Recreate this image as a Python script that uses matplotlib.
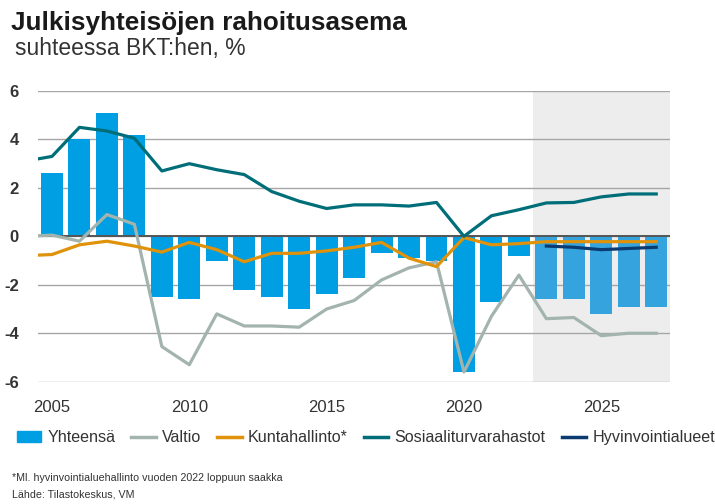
import numpy as np
import matplotlib
matplotlib.use("Agg")
import matplotlib.pyplot as plt
from matplotlib.patches import Patch
from matplotlib.lines import Line2D

plt.rcParams['font.family'] = ['Liberation Sans', 'DejaVu Sans']
plt.rcParams['axes.unicode_minus'] = False

# Data (% of GDP)
years = np.arange(2005, 2028)
total = [2.6, 4.0, 5.1, 4.2, -2.5, -2.6, -1.0, -2.2, -2.5, -3.0, -2.4, -1.7,
         -0.7, -0.9, -1.0, -5.6, -2.7, -0.8, -2.6, -2.6, -3.2, -2.9, -2.9]

# lines start one year earlier (clipped at the left edge)
line_years = np.arange(2004, 2028)
valtio = [0.0, 0.05, -0.2, 0.9, 0.5, -4.55, -5.3, -3.2, -3.7, -3.7, -3.75, -3.0,
          -2.65, -1.8, -1.3, -1.05, -5.6, -3.3, -1.6, -3.4, -3.35, -4.1, -4.0, -4.0]
kunta = [-0.8, -0.75, -0.35, -0.2, -0.4, -0.65, -0.25, -0.55, -1.05, -0.7, -0.7,
         -0.6, -0.45, -0.25, -0.9, -1.25, -0.05, -0.35, -0.3, -0.22, -0.22, -0.22,
         -0.22, -0.22]
sosiaali = [3.1, 3.3, 4.5, 4.35, 4.05, 2.7, 3.0, 2.75, 2.55, 1.85, 1.45, 1.15,
            1.3, 1.3, 1.25, 1.4, 0.0, 0.85, 1.1, 1.38, 1.4, 1.63, 1.75, 1.75]
hyv_years = np.arange(2023, 2028)
hyvinvointi = [-0.4, -0.45, -0.55, -0.5, -0.45]

forecast_start = 2023

c_bar = '#009ee3'
c_bar_fc = '#35a4de'
c_valtio = '#a3b4af'
c_kunta = '#e0920a'
c_sos = '#006e78'
c_hyv = '#0b3b70'
c_text = '#333333'

fig = plt.figure(figsize=(7.15, 5.04), dpi=100)
ax = fig.add_axes([0.0535, 0.2427, 0.8835, 0.5767])

ax.axvspan(forecast_start - 0.5, 2027.5, color='#ededed', zorder=0, lw=0)

bar_colors = [c_bar if y < forecast_start else c_bar_fc for y in years]
ax.bar(years, total, width=0.8, color=bar_colors, zorder=2)

ax.axhline(0, color='#555555', lw=1.4, zorder=3)

ax.plot(line_years, valtio, color=c_valtio, lw=2.3, zorder=4)
ax.plot(line_years, kunta, color=c_kunta, lw=2.3, zorder=5)
ax.plot(line_years, sosiaali, color=c_sos, lw=2.3, zorder=6)
ax.plot(hyv_years, hyvinvointi, color=c_hyv, lw=2.3, zorder=6)

ax.set_xlim(2004.5, 2027.5)
ax.set_ylim(-6, 6)
ax.set_yticks(np.arange(-6, 7, 2))
ax.set_xticks([2005, 2010, 2015, 2020, 2025])
ax.grid(axis='y', color='#a6a6a6', lw=1.0, zorder=1)
ax.set_axisbelow(True)
for s in ax.spines.values():
    s.set_visible(False)
ax.tick_params(axis='both', length=0, labelsize=12, colors=c_text)
ax.tick_params(axis='y', pad=14)
ax.tick_params(axis='x', pad=13)
for lab in ax.get_yticklabels():
    lab.set_fontweight('bold')
    lab.set_horizontalalignment('right')

fig.text(0.016, 0.955, 'Julkisyhteisöjen rahoitusasema', fontsize=18.8,
         fontweight='bold', color='#1a1a1a', va='center')
fig.text(0.021, 0.903, 'suhteessa BKT:hen, %', fontsize=16.5,
         color=c_text, va='center')

handles = [Patch(color=c_bar),
           Line2D([], [], color=c_valtio, lw=2.5),
           Line2D([], [], color=c_kunta, lw=2.5),
           Line2D([], [], color=c_sos, lw=2.5),
           Line2D([], [], color=c_hyv, lw=2.5)]
labels = ['Yhteensä', 'Valtio', 'Kuntahallinto*', 'Sosiaaliturvarahastot',
          'Hyvinvointialueet']
fig.legend(handles, labels, loc='center left', bbox_to_anchor=(0.003, 0.131),
           ncol=5, frameon=False, fontsize=11.6, handlelength=1.5,
           handletextpad=0.4, columnspacing=1.0, labelcolor=c_text)

fig.text(0.017, 0.052, '*Ml. hyvinvointialuehallinto vuoden 2022 loppuun saakka',
         fontsize=7.7, color=c_text, va='center')
fig.text(0.017, 0.018, 'Lähde: Tilastokeskus, VM', fontsize=7.7,
         color=c_text, va='center')

fig.savefig('out.png', dpi=100)
